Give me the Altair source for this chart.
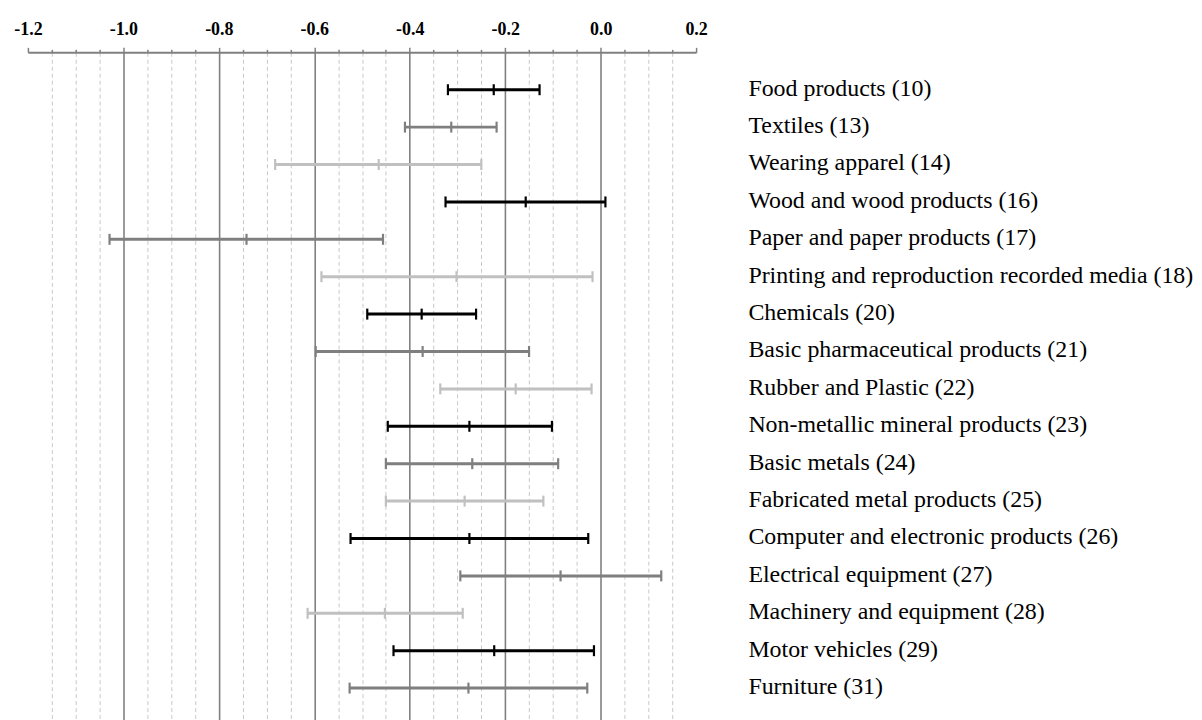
import altair as alt
import pandas as pd

industries = [
    "Food products (10)",
    "Textiles (13)",
    "Wearing apparel (14)",
    "Wood and wood products (16)",
    "Paper and paper products (17)",
    "Printing and reproduction recorded media (18)",
    "Chemicals (20)",
    "Basic pharmaceutical products (21)",
    "Rubber and Plastic (22)",
    "Non-metallic mineral products (23)",
    "Basic metals (24)",
    "Fabricated metal products (25)",
    "Computer and electronic products (26)",
    "Electrical equipment (27)",
    "Machinery and equipment (28)",
    "Motor vehicles (29)",
    "Furniture (31)",
]
lower = [-0.320, -0.410, -0.682, -0.325, -1.029, -0.585, -0.489, -0.597, -0.336,
         -0.446, -0.450, -0.450, -0.524, -0.294, -0.614, -0.434, -0.526]
estimate = [-0.224, -0.313, -0.465, -0.157, -0.742, -0.302, -0.375, -0.373, -0.178,
            -0.275, -0.269, -0.285, -0.275, -0.084, -0.452, -0.223, -0.277]
upper = [-0.128, -0.218, -0.250, 0.010, -0.456, -0.017, -0.261, -0.150, -0.019,
         -0.102, -0.089, -0.120, -0.026, 0.127, -0.289, -0.014, -0.028]
shade = ["black", "gray", "light", "black", "gray", "light", "black", "gray", "light",
         "black", "gray", "light", "black", "gray", "light", "black", "gray"]

x_ticks = [-1.2, -1.15, -1.1, -1.05, -1.0, -0.95, -0.9, -0.85, -0.8, -0.75, -0.7,
           -0.65, -0.6, -0.55, -0.5, -0.45, -0.4, -0.35, -0.3, -0.25, -0.2, -0.15,
           -0.1, -0.05, 0.0, 0.05, 0.1, 0.15, 0.2]

df = pd.DataFrame({
    "industry": industries,
    "lower": lower,
    "estimate": estimate,
    "upper": upper,
    "shade": shade,
})

MAJOR = "abs(datum.value*5 - round(datum.value*5)) < 0.001"
ENDS = "(datum.value < -1.19 || datum.value > 0.19)"

x_axis = alt.Axis(
    orient="top",
    values=x_ticks,
    title=None,
    labelExpr=f"{MAJOR} ? (datum.value < -0.001 ? '-' : '') + format(abs(datum.value), '.1f') : ''",
    labelFont="Liberation Serif",
    labelFontSize=18,
    labelFontWeight="bold",
    labelColor="black",
    labelPadding=9,
    labelOverlap=False,
    labelFlush=False,
    domainColor="#808080",
    domainWidth=2,
    tickColor="#808080",
    tickWidth=1.5,
    tickSize={"condition": {"test": f"{MAJOR} || {ENDS}", "value": 5}, "value": 3},
    grid=True,
    gridColor={"condition": {"test": MAJOR, "value": "#808080"}, "value": "#c8c8c8"},
    gridDash={"condition": {"test": MAJOR, "value": []}, "value": [4, 3]},
    gridWidth={"condition": {"test": MAJOR, "value": 1.6}, "value": 1},
    gridOpacity={"condition": {"test": ENDS, "value": 0}, "value": 1},
)

x_scale = alt.Scale(domain=[-1.2, 0.2], nice=False, zero=False)

y_enc = alt.Y(
    "industry:N",
    sort=industries,
    scale=alt.Scale(padding=1.0125),
    axis=alt.Axis(
        orient="right", title=None, ticks=False, tickSize=0, domain=False, grid=False,
        labelPadding=52, labelAlign="left", labelFont="Liberation Serif",
        labelFontSize=24, labelColor="black", labelLimit=0, labelOffset=-1,
    ),
)

color_enc = alt.Color(
    "shade:N",
    scale=alt.Scale(domain=["black", "gray", "light"], range=["#000000", "#7f7f7f", "#c0c0c0"]),
    legend=None,
)

base = alt.Chart(df)

rules = base.mark_rule(strokeWidth=3).encode(
    x=alt.X("lower:Q", scale=x_scale, axis=x_axis),
    x2="upper:Q",
    y=y_enc,
    color=color_enc,
)

ticks = base.transform_fold(["lower", "estimate", "upper"], as_=["kind", "val"]).mark_tick(
    size=11, thickness=2.2, opacity=1
).encode(
    x=alt.X("val:Q", scale=x_scale, axis=x_axis),
    y=y_enc,
    color=color_enc,
)

chart = alt.layer(rules, ticks).properties(
    width=671,
    height=676,
    padding={"top": 11, "left": 5, "right": 0, "bottom": 0},
    background="white",
).configure_view(stroke=None)

chart.save("out.html", embed_options={"renderer": "svg", "actions": False})
